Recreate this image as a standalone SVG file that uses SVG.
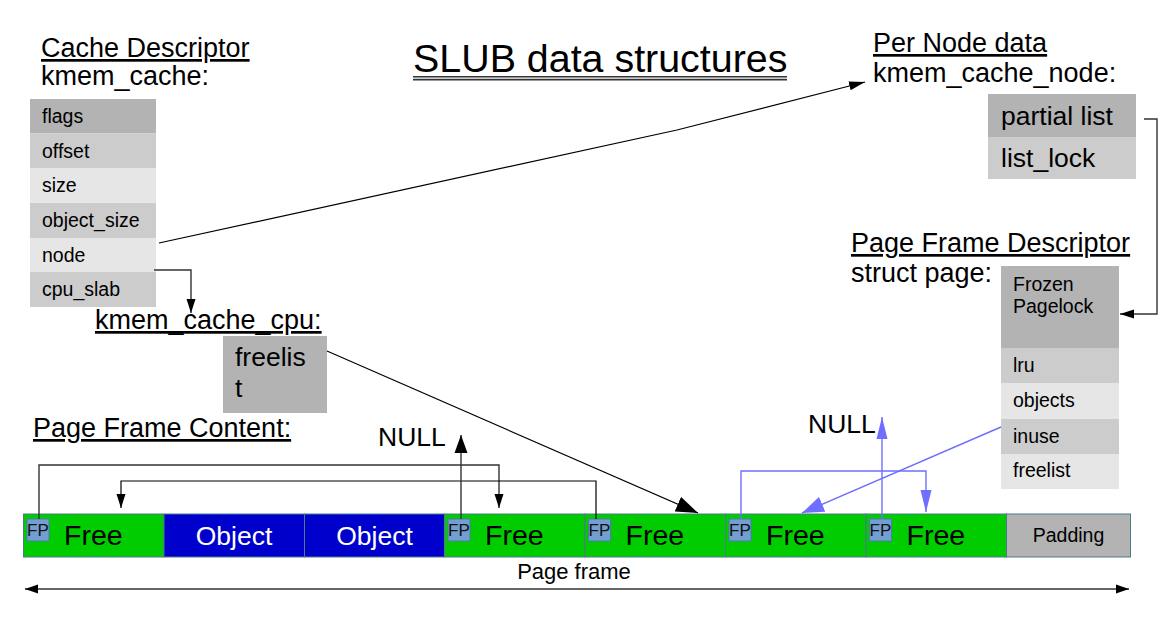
<svg xmlns="http://www.w3.org/2000/svg" width="1170" height="627" viewBox="0 0 1170 627">
<style>
text{font-family:"Liberation Sans",Arial,sans-serif;fill:#000}
.h{font-size:27px}
.u{text-decoration:underline}
.cell{font-size:19.5px}
.big{font-size:26.5px}
.free{font-size:28.5px}
.obj{font-size:26.5px;fill:#fff}
.fp{font-size:17px;fill:#111}
.g1{fill:#b3b3b3}
.g2{fill:#cccccc}
.g3{fill:#e6e6e6}
.seg{stroke:#4d7a8c;stroke-width:1}
.fpbox{fill:#729fcf;stroke:#4a7db0;stroke-width:1}
.bk{fill:none;stroke:#000;stroke-width:1.2}
.gy{fill:none;stroke:#333;stroke-width:1.4}
.bl{fill:none;stroke:#6f6fff;stroke-width:1.4}
</style>
<defs>
<marker id="aS" markerUnits="userSpaceOnUse" markerWidth="14" markerHeight="10" refX="14" refY="5" orient="auto"><path d="M0,0.5 L14,5 L0,9.5 z" fill="#000"/></marker>
<marker id="aN" markerUnits="userSpaceOnUse" markerWidth="16" markerHeight="10" refX="16" refY="5" orient="auto"><path d="M0,0.5 L16,5 L0,9.5 z" fill="#000"/></marker>
<marker id="aL" markerUnits="userSpaceOnUse" markerWidth="22" markerHeight="16" refX="22" refY="8" orient="auto"><path d="M0,0 L22,8 L0,16 z" fill="#000"/></marker>
<marker id="aM" markerUnits="userSpaceOnUse" markerWidth="18" markerHeight="14" refX="18" refY="7" orient="auto"><path d="M0,0.5 L18,7 L0,13.5 z" fill="#000"/></marker>
<marker id="aP" markerUnits="userSpaceOnUse" markerWidth="13" markerHeight="10" refX="13" refY="5" orient="auto-start-reverse"><path d="M0,0.5 L13,5 L0,9.5 z" fill="#000"/></marker>
<marker id="bA" markerUnits="userSpaceOnUse" markerWidth="22" markerHeight="12" refX="22" refY="6" orient="auto"><path d="M0,0.5 L22,6 L0,11.5 z" fill="#6f6fff"/></marker>
<marker id="bL" markerUnits="userSpaceOnUse" markerWidth="22" markerHeight="16" refX="22" refY="8" orient="auto"><path d="M0,0 L22,8 L0,16 z" fill="#6f6fff"/></marker>
</defs>
<rect width="1170" height="627" fill="#fff"/>

<g id="title">
<text x="413" y="72" style="font-size:39.4px">SLUB data structures</text>
<line x1="413" y1="76.8" x2="787" y2="76.8" stroke="#333" stroke-width="1.6"/>
<line x1="413" y1="79.6" x2="787" y2="79.6" stroke="#333" stroke-width="1.6"/>
</g>

<g id="kmem_cache">
<text class="h u" x="41" y="57">Cache Descriptor</text>
<text class="h" x="41" y="85">kmem_cache:</text>
<rect class="g1" x="30" y="99" width="126" height="34.5"/>
<rect class="g2" x="30" y="133.5" width="126" height="34.5"/>
<rect class="g3" x="30" y="168" width="126" height="35"/>
<rect class="g2" x="30" y="203" width="126" height="35"/>
<rect class="g3" x="30" y="238" width="126" height="34"/>
<rect class="g2" x="30" y="272" width="126" height="35"/>
<text class="cell" x="42" y="123">flags</text>
<text class="cell" x="42" y="158">offset</text>
<text class="cell" x="42" y="192">size</text>
<text class="cell" x="42" y="227">object_size</text>
<text class="cell" x="42" y="262">node</text>
<text class="cell" x="42" y="296">cpu_slab</text>
</g>

<g id="kmem_cache_cpu">
<text class="h u" x="95" y="329">kmem_cache_cpu:</text>
<rect class="g1" x="223" y="336" width="104" height="77"/>
<text class="big" x="235" y="366">freelis</text>
<text class="big" x="235" y="397">t</text>
</g>

<g id="kmem_cache_node">
<text class="h u" x="873" y="52">Per Node data</text>
<text class="h" x="873" y="82">kmem_cache_node:</text>
<rect class="g1" x="988" y="94" width="148" height="43"/>
<rect class="g2" x="988" y="137" width="148" height="42"/>
<text class="big" x="1001" y="125">partial list</text>
<text class="big" x="1001" y="167">list_lock</text>
</g>

<g id="struct_page">
<text class="h u" x="851" y="252">Page Frame Descriptor</text>
<text class="h" x="851" y="282">struct page:</text>
<rect class="g1" x="1001" y="266" width="118" height="82"/>
<rect class="g2" x="1001" y="348" width="118" height="35"/>
<rect class="g3" x="1001" y="383" width="118" height="36"/>
<rect class="g2" x="1001" y="419" width="118" height="35"/>
<rect class="g3" x="1001" y="454" width="118" height="35"/>
<text class="cell" x="1013" y="291">Frozen</text>
<text class="cell" x="1013" y="313">Pagelock</text>
<text class="cell" x="1013" y="372">lru</text>
<text class="cell" x="1013" y="407">objects</text>
<text class="cell" x="1013" y="443">inuse</text>
<text class="cell" x="1013" y="477">freelist</text>
</g>

<g id="page_frame">
<text class="h u" x="33" y="437">Page Frame Content:</text>
<g id="seg1"><rect class="seg" x="23.5" y="514" width="140.5" height="43" fill="#00cc00"/><rect class="fpbox" x="27" y="519" width="22" height="22"/><text class="fp" x="27" y="535.5">FP</text><text class="free" x="64" y="545">Free</text></g>
<g id="seg2"><rect class="seg" x="164" y="514" width="140.5" height="43" fill="#0000cc"/><text class="obj" x="234" y="545" text-anchor="middle">Object</text></g>
<g id="seg3"><rect class="seg" x="304.5" y="514" width="140" height="43" fill="#0000cc"/><text class="obj" x="374.5" y="545" text-anchor="middle">Object</text></g>
<g id="seg4"><rect class="seg" x="444.5" y="514" width="140.5" height="43" fill="#00cc00"/><rect class="fpbox" x="448" y="519" width="22" height="22"/><text class="fp" x="448" y="535.5">FP</text><text class="free" x="485" y="545">Free</text></g>
<g id="seg5"><rect class="seg" x="585" y="514" width="140.5" height="43" fill="#00cc00"/><rect class="fpbox" x="588.5" y="519" width="22" height="22"/><text class="fp" x="588.5" y="535.5">FP</text><text class="free" x="625.5" y="545">Free</text></g>
<g id="seg6"><rect class="seg" x="725.5" y="514" width="140.5" height="43" fill="#00cc00"/><rect class="fpbox" x="729" y="519" width="22" height="22"/><text class="fp" x="729" y="535.5">FP</text><text class="free" x="766" y="545">Free</text></g>
<g id="seg7"><rect class="seg" x="866" y="514" width="140.5" height="43" fill="#00cc00"/><rect class="fpbox" x="869.5" y="519" width="22" height="22"/><text class="fp" x="869.5" y="535.5">FP</text><text class="free" x="906.5" y="545">Free</text></g>
<g id="seg8"><rect class="seg" x="1006.5" y="514" width="124" height="43" fill="#b3b3b3"/><text class="cell" x="1068.5" y="542" text-anchor="middle">Padding</text></g>
<text style="font-size:22px" x="574" y="579" text-anchor="middle">Page frame</text>
<text class="big" x="378" y="446">NULL</text>
<text class="big" x="808" y="433">NULL</text>
</g>

<g id="connectors">
<path class="bk" d="M159,243 L677,130 L865,82" marker-end="url(#aN)"/>
<path class="gy" d="M154,270 H191 V313" marker-end="url(#aS)"/>
<path class="gy" d="M1144,119 H1157 V314 H1120" marker-end="url(#aS)"/>
<path class="bk" d="M327,351 L698,513" marker-end="url(#aL)"/>
<path class="gy" d="M39,519 V465 H499 V508" marker-end="url(#aS)"/>
<path class="bk" d="M596,519 V481 H121 V508" marker-end="url(#aS)"/>
<path class="gy" d="M461,519 V435" stroke-width="1.8" marker-end="url(#aM)"/>
<path class="bl" d="M741,519 V471 H926 V512" marker-end="url(#bA)"/>
<path class="bl" d="M882,519 V417" stroke-width="1.8" marker-end="url(#bA)"/>
<path class="bl" d="M1001,427 L802,513" stroke-width="1.2" marker-end="url(#bL)"/>
<path class="gy" d="M25,589 H1129" marker-start="url(#aP)" marker-end="url(#aP)"/>
</g>
</svg>
